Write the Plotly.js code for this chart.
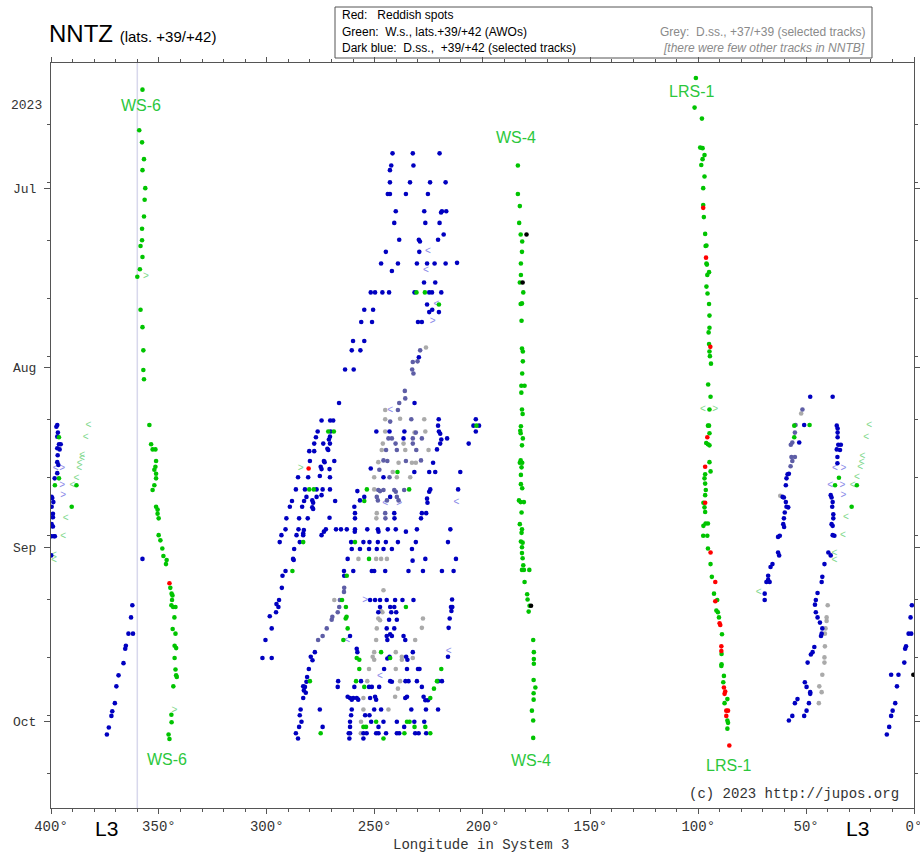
<!DOCTYPE html>
<html>
<head>
<meta charset="utf-8">
<script src="https://cdn.plot.ly/plotly-3.0.1.min.js"></script>
<style>html,body{margin:0;padding:0;background:#fff;}#chart{width:920px;height:854px;}</style>
</head>
<body>
<div id="chart"></div>
<script>
// ---- Data: [longitude System 3 (deg), day of year 2023] ----
const monthTickDays = [182, 213, 244, 274];
const monthTickText = ['Jul', 'Aug', 'Sep', 'Oct'];
const tenDayTicks = [171, 181, 191, 201, 211, 222, 232, 242, 253, 263, 273, 283];
const lonTicks = [400, 350, 300, 250, 200, 150, 100, 50, 0];
const lonTickText = ['400°', '350°', '300°', '250°', '200°', '150°', '100°', '50°', '0°'];

const redSpots = [
 [345.1,250.2],[97.7,185.4],[96.4,194.0],[94.4,209.4],[95.8,225.0],[96.8,230.1],[96.8,236.3],[94.3,244.9],
 [92.1,250.0],[92.1,253.3],[90.1,257.1],[89.8,257.4],[89.3,261.1],[89.3,261.9],[88.1,268.2],[87.5,268.9],
 [87.8,269.3],[87.0,272.2],[86.2,272.2],[87.0,273.1],[85.6,278.2],[280.6,230.4]
];

const blackSpots = [[179.6,190.0],[181.4,198.3],[177.5,254.1],[0.3,266.0]];

const ws6 = [
 [357.6,165.0],[359.1,172.0],[357.8,174.1],[356.9,177.0],[357.6,178.9],[356.3,182.0],[356.6,184.0],[356.9,186.9],
 [357.8,189.0],[357.8,191.0],[358.5,192.0],[357.6,193.9],[358.8,196.0],[360.0,197.3],[358.5,203.0],[357.6,206.0],
 [357.2,210.0],[357.2,213.4],[356.9,215.0],[354.4,222.9],[353.6,226.2],[352.9,227.1],[351.6,227.1],[351.3,229.1],
 [351.6,230.1],[352.1,230.6],[351.3,231.3],[351.3,232.1],[352.1,233.3],[352.9,234.1],[351.3,237.0],[350.6,237.5],
 [350.6,238.2],[350.1,239.0],[350.1,241.9],[349.3,242.8],[348.4,244.2],[347.9,245.5],[346.4,246.2],[346.7,246.9],
 [344.7,251.0],[344.1,252.0],[343.7,252.3],[343.9,253.1],[344.2,254.0],[343.4,254.3],[342.3,254.3],[342.8,256.1],
 [343.6,258.1],[342.3,258.9],[342.7,261.0],[342.0,261.4],[342.7,263.1],[342.3,265.1],[342.0,266.1],[341.7,266.4],
 [343.3,268.0],[344.2,272.9],[344.1,274.2],[345.5,276.3],[345.1,277.1]
];

const ws4 = [
 [183.6,178.1],[183.6,183.0],[182.7,185.1],[183.0,188.0],[182.3,190.0],[181.6,191.2],[181.7,193.0],[182.2,195.0],
 [182.2,197.0],[182.7,198.3],[181.1,200.0],[182.3,202.0],[181.7,201.9],[181.9,204.9],[181.7,209.7],[181.3,210.2],
 [181.3,211.9],[181.6,214.0],[182.0,216.1],[180.5,216.1],[182.0,217.3],[181.7,220.2],[181.4,221.0],[182.2,223.1],
 [182.5,223.9],[182.3,224.3],[181.3,225.2],[181.7,226.4],[182.3,229.0],[181.6,229.4],[182.7,229.4],[181.9,230.2],
 [182.2,231.5],[182.2,233.1],[181.6,233.8],[183.1,235.9],[182.3,236.2],[180.8,236.2],[181.9,238.0],[182.7,240.0],
 [181.7,240.9],[181.9,241.5],[182.2,243.0],[181.4,243.2],[181.7,244.0],[181.7,245.0],[181.4,245.9],[181.1,247.1],
 [181.7,247.9],[180.8,247.9],[178.3,247.9],[180.5,250.0],[179.3,252.1],[179.1,253.0],[178.2,254.1],[178.6,255.1],
 [176.5,260.0],[176.2,262.1],[176.2,263.3],[176.2,264.1],[176.3,266.9],[175.5,268.2],[176.3,269.2],[176.3,270.3],
 [177.1,272.2],[176.5,273.9],[176.5,276.9]
];

const lrs1 = [
 [101.1,163.0],[101.7,168.1],[98.3,170.0],[99.1,175.0],[98.0,175.1],[97.1,176.3],[98.0,177.0],[98.6,178.0],
 [97.1,180.0],[97.7,182.0],[97.7,184.9],[97.4,187.0],[96.8,189.9],[96.6,192.0],[96.2,191.9],[96.2,195.0],
 [96.0,195.2],[95.0,196.5],[95.8,197.0],[96.2,199.0],[95.7,200.2],[95.0,202.0],[94.8,204.0],[94.8,206.1],
 [95.2,206.9],[95.0,208.9],[94.8,210.2],[94.6,211.0],[94.1,212.3],[95.4,215.9],[94.3,218.0],[94.8,220.2],
 [95.5,223.0],[95.0,223.0],[94.8,224.3],[96.3,226.0],[95.5,226.2],[94.8,226.4],[94.8,229.3],[94.3,230.9],
 [96.8,231.4],[97.1,232.1],[96.8,233.0],[96.5,234.1],[96.8,235.0],[97.6,236.3],[97.1,237.1],[96.8,237.9],
 [96.6,239.9],[95.5,239.9],[97.6,240.3],[97.7,242.0],[95.8,242.0],[95.5,244.2],[94.3,246.9],[93.7,249.1],
 [92.7,252.0],[91.2,253.1],[91.6,254.9],[90.9,255.2],[90.4,256.1],[89.0,259.0],[89.2,262.4],[89.2,264.2],
 [89.3,264.5],[88.1,266.2],[88.4,267.3],[86.5,270.2],[87.8,270.9],[86.5,273.9],[86.2,274.3],[86.5,275.3]
];

const otherWhiteSpots = [
 [396.3,225.0],[396.3,232.1],[398.2,233.3],[388.2,233.3],[390.4,237.0],
 [230.6,200.0],[226.7,200.0],[220.2,202.1],[202.8,223.0],[271.5,224.0],[268.9,224.0],[239.4,231.0],[280.3,234.0],
 [278.2,234.0],[253.6,234.0],[234.0,234.0],[254.8,236.0],[283.1,243.1],[259.1,243.1],[252.6,246.0],[288.1,248.1],
 [262.9,248.9],[265.1,253.1],[263.3,254.3],[235.5,254.3],[263.4,256.3],[263.0,256.0],[262.5,258.0],[264.5,260.0],
 [247.0,262.1],[258.3,263.1],[257.1,263.4],[242.8,263.1],[257.1,265.0],[219.1,265.0],[280.0,267.1],[258.6,267.1],
 [221.1,267.1],[254.8,268.1],[222.5,268.4],[224.2,270.0],[249.3,274.1],[235.0,274.1],[233.8,274.1],[255.2,275.0],
 [254.0,275.0],[231.5,275.0],[226.5,275.0],[275.0,276.1],[236.2,276.1],[224.2,276.1],[245.9,277.0],
 [55.5,223.0],[48.4,222.9],[55.5,225.0],[34.8,232.0],[36.6,233.3],[26.5,233.3],[28.9,237.0]
];

const greySpots = [
 [226.2,209.5],[245.1,220.3],[245.1,221.9],[238.2,221.8],[227.0,221.9],[245.1,224.0],[231.5,224.2],[226.5,224.0],
 [246.2,226.1],[236.6,226.1],[246.7,227.2],[235.8,227.2],[225.0,227.2],[248.3,229.3],[238.9,229.4],[232.7,229.4],
 [230.9,229.4],[241.6,231.0],[250.2,231.9],[239.7,231.9],[233.5,231.9],[250.2,234.0],[249.0,238.1],[249.2,239.0],
 [257.5,246.0],[249.3,246.0],[247.0,246.0],[244.3,246.0],[245.9,251.4],[268.7,253.1],[247.1,255.0],[246.4,255.2],
 [248.3,256.3],[247.5,256.6],[227.6,256.3],[249.0,258.0],[228.1,257.9],[249.3,260.0],[231.2,260.0],[250.2,262.1],
 [240.2,262.1],[250.9,262.9],[250.2,263.4],[237.4,262.9],[237.4,263.4],[232.3,263.1],[252.6,265.0],[240.2,265.0],
 [253.4,267.1],[238.2,267.1],[239.2,268.4],[255.2,270.0],[240.5,269.8],[255.2,272.0],[243.6,272.0],[256.3,274.1],
 [256.4,276.1],
 [52.3,220.9],[62.0,235.1],[40.0,254.0],[40.5,256.1],[40.5,256.7],[41.0,258.0],[41.3,258.9],[41.3,261.1],
 [41.5,263.0],[41.5,263.9],[42.5,266.0],[43.9,268.0],[42.8,269.0],[44.1,270.9]
];

const mixedSpots = [
 [228.9,210.0],[232.3,212.0],[230.1,211.9],[232.6,213.3],[232.0,214.0],[236.0,217.0],[235.8,218.3],[238.6,219.1],
 [239.2,220.3],[242.8,222.3],[233.0,221.9],[230.9,224.2],[243.6,225.2],[242.0,225.2],[232.3,225.2],[228.1,225.2],
 [240.3,226.1],[232.3,226.1],[244.7,227.2],[239.7,227.2],[230.7,227.2],[245.9,229.0],[244.1,229.1],[235.5,229.1],
 [228.5,229.0],[247.8,230.6],[243.1,231.9],[248.3,234.1],[247.5,234.3],[245.9,234.1],[240.9,234.1],[240.2,234.4],
 [236.3,234.1],[249.0,235.3],[248.5,235.9],[244.3,235.9],[239.7,235.3],[238.9,235.9],[245.1,238.1],[245.0,239.0],
 [264.1,251.0],[264.2,251.7],[266.1,253.1],[266.4,254.3],[267.1,255.2],[269.6,256.0],[269.9,256.5],[272.2,258.0],
 [274.1,259.3],[276.2,260.0],
 [51.7,220.2],[54.9,222.9],[55.2,224.2],[56.4,225.9],[57.1,226.3],[56.8,228.4],[55.2,228.4],[56.4,229.1],[57.2,230.0]
];

const blueSpots = [
 [397.1,222.9],[397.5,223.2],[396.8,224.2],[397.1,224.9],[396.3,226.2],[395.5,226.2],[397.1,226.9],[396.0,227.1],
 [396.9,228.1],[397.1,229.3],[396.6,229.8],[397.1,231.2],[398.3,232.1],[399.7,235.3],[399.4,235.5],[398.9,236.2],
 [399.7,237.0],[399.1,238.2],[399.1,238.8],[399.7,240.0],[399.1,240.4],[399.7,242.1],[398.6,242.1],[398.2,242.1],
 [399.9,245.4],[357.6,246.0],
 [362.3,254.0],[362.9,256.1],[364.1,258.9],[362.0,258.9],[365.3,261.0],[365.6,261.5],[366.4,264.0],[368.7,266.1],
 [369.7,268.0],[370.4,270.9],[371.6,272.3],[372.0,273.1],[373.2,275.1],[374.1,276.3],
 [241.7,176.0],[232.3,176.0],[219.9,176.0],[242.3,178.1],[232.0,178.1],[242.9,178.9],[242.9,181.0],[233.6,181.0],
 [224.3,181.0],[217.1,181.0],[243.9,183.0],[242.9,183.0],[235.5,183.0],[225.3,183.0],[240.2,186.0],[227.0,186.0],
 [219.2,186.2],[218.8,186.0],[216.8,186.0],[240.9,188.0],[226.5,188.0],[219.9,188.0],[218.0,190.0],[238.6,190.9],
 [229.5,190.9],[229.0,191.2],[220.6,190.9],[244.8,193.0],[229.3,193.0],[247.0,195.0],[239.2,195.0],[230.4,195.0],
 [225.7,195.0],[222.2,195.0],[217.1,195.0],[211.8,194.9],[242.0,196.3],[227.1,198.3],[221.9,198.3],[251.8,200.0],
 [249.8,200.0],[246.4,200.0],[243.3,200.0],[231.5,200.0],[224.7,200.0],[223.4,200.0],[219.1,200.0],[225.7,202.1],
 [223.3,203.0],[224.7,203.4],[220.2,203.4],[254.8,203.0],[250.7,203.0],[256.2,205.1],[251.2,205.1],[229.9,205.1],
 [228.1,205.1],[260.0,208.4],[254.8,208.4],[260.6,210.0],[256.6,210.0],[229.5,211.2],[263.7,213.3],[259.7,213.3],
 [266.5,219.1],[231.5,219.1],
 [274.6,222.1],[270.6,222.1],[269.2,222.1],[220.3,221.9],[203.1,221.9],[204.2,223.0],[201.6,223.0],[220.6,223.0],
 [276.4,224.0],[270.4,224.0],[249.2,224.0],[243.1,224.0],[236.2,224.0],[220.2,224.0],[219.6,224.4],[203.1,224.0],
 [277.2,225.0],[270.7,224.9],[271.2,225.4],[236.6,225.2],[219.1,225.4],[216.4,225.2],[278.0,226.1],[273.8,226.1],
 [270.7,226.1],[219.6,226.1],[206.4,226.1],[280.3,227.4],[278.0,227.4],[271.9,227.0],[271.5,227.2],[221.1,227.1],
 [280.0,229.1],[273.5,229.1],[273.2,229.3],[268.7,229.1],[222.9,229.4],[275.0,230.1],[274.6,230.5],[270.9,230.5],
 [251.8,230.4],[231.6,231.0],[224.7,231.0],[221.9,231.0],[210.3,231.0],[285.5,231.9],[280.8,231.9],[275.4,231.7],
 [270.7,231.9],[245.9,231.9],[286.5,234.0],[282.3,234.0],[276.9,234.0],[274.1,234.0],[270.7,234.0],[258.0,234.3],
 [224.2,234.0],[224.7,234.4],[211.3,234.0],[281.6,235.3],[276.9,235.3],[274.6,235.0],[256.8,235.9],[254.8,235.3],
 [242.8,235.3],[225.7,235.6],[225.5,236.3],[288.3,236.0],[282.7,236.0],[278.9,235.9],[278.5,236.3],[268.3,236.0],
 [289.3,237.0],[283.6,237.0],[278.9,237.1],[278.5,237.4],[259.4,237.0],[259.1,238.1],[240.9,238.1],[228.1,238.1],
 [226.1,238.1],[290.9,239.0],[285.0,239.0],[281.0,239.0],[270.9,238.9],[259.1,239.0],[240.8,239.0],[228.5,239.0],
 [291.3,240.9],[285.3,240.9],[282.8,241.0],[283.1,241.6],[272.6,240.9],[273.5,241.3],[274.6,241.9],[267.9,240.9],
 [265.6,240.9],[262.9,240.9],[259.1,240.9],[259.2,241.3],[253.4,240.9],[248.5,240.9],[248.2,241.3],[243.9,240.9],
 [240.2,240.9],[235.5,241.3],[230.4,240.9],[214.9,240.9],[293.2,241.9],[286.2,241.9],[283.1,241.9],[294.0,243.1],
 [284.7,243.1],[260.9,243.1],[255.2,243.1],[252.4,243.1],[248.5,243.1],[244.8,243.1],[239.2,243.1],[230.9,243.1],
 [216.0,243.1],[287.3,244.3],[260.6,244.3],[256.8,244.3],[252.6,244.3],[249.0,244.3],[245.9,244.3],[242.0,244.3],
 [232.7,244.3],[287.8,246.0],[262.5,246.0],[232.4,246.3],[226.5,246.0],[212.3,246.0],[287.5,246.2],[291.3,248.1],
 [264.2,248.1],[259.9,248.1],[251.3,248.1],[250.2,248.1],[245.1,248.1],[234.3,248.1],[227.6,248.1],[218.8,248.1],
 [213.4,248.1],[292.7,248.9],[264.1,248.9],[293.0,251.0],[294.3,253.1],[295.5,253.8],[294.6,254.3],[252.1,253.1],
 [249.8,253.1],[247.5,253.1],[244.4,253.1],[240.5,253.1],[237.1,253.1],[232.0,253.1],[214.1,253.0],[247.5,254.3],
 [242.8,254.3],[240.9,254.3],[214.6,254.3],[214.0,254.3],[295.7,255.2],[248.3,255.2],[242.3,255.2],[240.0,255.2],
 [214.4,255.0],[298.6,255.9],[243.3,256.5],[239.7,256.5],[215.2,256.3],[297.7,258.0],[244.4,258.0],[240.9,258.0],
 [215.7,257.9],[261.4,259.3],[244.4,259.3],[242.8,259.0],[242.0,259.3],[236.6,259.3],[300.6,260.0],[244.1,260.0],
 [235.8,260.0],[277.7,262.1],[258.3,261.5],[258.0,262.1],[232.3,262.1],[243.1,262.9],[244.1,263.2],[235.4,262.9],
 [234.8,263.4],[216.0,262.9],[302.0,263.1],[297.7,263.1],[279.6,262.9],[278.8,263.5],[280.5,265.0],[245.6,265.0],
 [235.0,265.0],[229.9,265.0],[229.2,265.0],[281.3,266.4],[281.6,267.2],[266.9,267.1],[256.3,267.1],[242.8,267.1],
 [242.0,267.2],[235.7,267.1],[234.3,267.1],[230.4,267.1],[220.6,267.1],[218.8,267.1],[283.1,268.0],[282.3,268.1],
 [282.8,268.7],[267.1,268.1],[259.4,268.1],[252.6,268.1],[251.3,268.1],[247.9,268.1],[228.1,268.1],[281.9,269.1],
 [283.1,270.0],[262.5,269.8],[261.4,270.0],[260.6,270.3],[259.9,270.0],[258.3,270.0],[257.6,270.3],[252.1,270.0],
 [249.8,269.8],[249.3,270.3],[235.8,270.0],[235.0,269.8],[227.3,269.8],[226.5,270.4],[225.3,270.4],[284.3,272.0],
 [275.4,272.0],[260.6,272.0],[250.2,272.0],[247.0,272.0],[233.0,272.0],[226.2,272.0],[220.6,272.0],[284.7,273.0],
 [260.9,273.0],[254.4,273.0],[252.4,273.0],[283.9,274.1],[261.4,274.1],[251.6,274.1],[245.9,274.1],[239.7,274.1],
 [231.6,274.1],[227.0,274.1],[285.0,275.0],[274.1,275.0],[261.4,275.0],[248.2,275.0],[236.3,275.0],[286.5,276.1],
 [262.0,276.1],[261.4,276.1],[255.2,276.1],[253.7,276.1],[249.3,276.1],[248.2,276.1],[244.7,276.1],[239.7,276.1],
 [238.6,276.1],[231.2,276.1],[229.6,276.1],[226.1,276.1],[285.5,277.0],[261.7,277.0],[255.2,277.0],
 [48.1,218.0],[37.7,218.0],[50.9,222.9],[35.8,223.0],[35.4,223.5],[35.4,224.2],[35.4,225.0],[53.2,225.9],
 [35.1,226.3],[33.9,226.3],[35.8,227.1],[34.3,227.2],[35.5,228.4],[35.5,229.5],[58.0,231.3],[58.6,231.4],
 [59.1,232.1],[59.4,233.3],[60.9,235.3],[60.3,235.4],[38.6,235.0],[38.2,235.4],[59.4,236.2],[37.7,236.2],
 [59.1,237.0],[58.3,237.1],[37.9,237.0],[59.9,238.0],[37.4,238.3],[60.3,239.0],[37.4,239.0],[60.6,240.0],
 [60.2,240.5],[38.2,240.0],[37.7,240.3],[62.2,242.0],[63.0,242.2],[37.7,241.9],[36.9,242.0],[63.0,244.9],
 [62.5,245.4],[39.7,244.9],[38.6,245.4],[65.6,246.9],[66.5,247.4],[41.5,246.9],[67.6,248.9],[67.6,249.6],
 [66.9,250.0],[68.4,250.0],[42.5,249.1],[42.8,250.0],[69.2,252.0],[69.2,253.1],[44.7,251.9],[45.5,253.1],
 [45.9,253.9],[45.5,255.2],[44.7,256.1],[43.6,257.0],[42.5,258.0],[42.8,258.9],[43.1,259.3],[46.2,261.2],
 [47.0,262.1],[47.8,262.5],[49.3,263.9],[50.6,267.3],[49.8,268.1],[48.1,269.0],[48.1,269.3],[54.0,270.2],
 [55.2,270.9],[48.7,270.9],[49.8,272.2],[50.9,273.1],[56.4,273.1],[58.0,273.9],
 [1.0,254.0],[1.6,256.1],[2.5,258.9],[1.3,258.9],[3.7,261.1],[4.1,261.5],[4.5,263.9],[10.6,266.0],
 [7.2,266.0],[7.9,268.0],[8.7,270.9],[9.9,272.2],[10.6,273.1],[11.5,275.0],[12.6,276.3]
];

// Open chevron markers (points shifted by wrap-around / uncertain tracks)
const lightGreenLeft = [
 [382.7,222.9],[383.9,225.0],[385.5,228.1],[385.7,228.7],[386.7,229.5],[387.0,230.4],[388.2,232.1],[390.1,233.3],
 [393.2,239.0],[394.4,242.1],[398.6,245.4],[398.6,246.2],[97.8,220.2],[20.8,222.9],[22.2,225.0],[23.9,228.4],
 [24.2,229.3],[25.0,230.2],[26.5,232.0],[28.4,233.3],[31.5,238.9],[33.0,242.0],[36.9,245.1],[36.9,246.2],[72.0,251.8]
];
const lightGreenRight = [[356.0,197.3],[342.8,272.2],[284.3,230.4],[92.1,220.2]];
const lightBlueLeft = [
 [397.8,230.4],[225.3,193.0],[226.2,196.3],[221.4,202.1],[242.8,220.3],[245.1,236.4],[212.1,236.2],
 [262.7,260.0],[215.7,262.0],[247.5,266.3],[36.6,230.4],[38.9,233.3]
];
const lightBlueRight = [
 [394.8,230.4],[394.8,233.3],[394.4,235.0],[223.1,205.1],[238.6,236.4],[254.4,253.1],[32.7,230.4],[33.2,233.3],[32.7,235.0]
];

// ---- Helpers ----
const X = a => a.map(p => p[0]);
const Y = a => a.map(p => p[1]);
function dots(arr, color) {
  return {type: 'scatter', mode: 'markers', x: X(arr), y: Y(arr),
    marker: {size: 4.6, color: color, line: {width: 0}}, hoverinfo: 'skip', showlegend: false};
}
function chev(arr, sym, color) {
  return {type: 'scatter', mode: 'text', x: X(arr), y: Y(arr), text: arr.map(() => sym),
    textposition: 'middle center', textfont: {family: 'Liberation Sans', size: 10, color: color},
    hoverinfo: 'skip', showlegend: false};
}

const GREEN = '#00c400', BLUE = '#0000c0', GREY = '#aaaaaa', MIXED = '#5e5ea6', RED = '#ff0000';
const LABELGREEN = '#2cc73c';

const traces = [
  {type: 'scatter', mode: 'markers', x: [], y: [], xaxis: 'x', yaxis: 'y2', showlegend: false, hoverinfo: 'skip'},
  chev(lightGreenLeft, '<', '#7fd88c'),
  chev(lightGreenRight, '>', '#7fd88c'),
  chev(lightBlueLeft, '<', '#8a8ae8'),
  chev(lightBlueRight, '>', '#8a8ae8'),
  dots(greySpots, GREY),
  dots(mixedSpots, MIXED),
  dots(blueSpots, BLUE),
  dots(ws6, GREEN),
  dots(ws4, GREEN),
  dots(lrs1, GREEN),
  dots(otherWhiteSpots, GREEN),
  dots(redSpots, RED),
  dots(blackSpots, '#000000')
];

const L = 51, R = 914, T = 63, B = 808, W = 920, H = 854;
const px = x => (x - L) / (R - L);          // pixel -> paper x
const py = y => (B - y) / (B - T);          // pixel -> paper y
const monoFont = {family: 'Liberation Mono, Courier New, monospace', size: 13, color: '#333'};
const monoFont14 = {family: 'Liberation Mono, Courier New, monospace', size: 14, color: '#333'};
const sansFont = (s, c) => ({family: 'Liberation Sans, Arial, sans-serif', size: s, color: c || '#000'});
const NB = '\u00a0';

const annotations = [
  {xref: 'paper', yref: 'paper', x: px(47), y: py(33), xanchor: 'left', yanchor: 'middle', showarrow: false,
   text: 'NNTZ <span style="font-size:15px">(lats. +39/+42)</span>', font: sansFont(24)},
  {xref: 'paper', yref: 'paper', x: px(340), y: py(15), xanchor: 'left', yanchor: 'middle', showarrow: false,
   text: 'Red:' + NB + NB + NB + 'Reddish spots', font: sansFont(12)},
  {xref: 'paper', yref: 'paper', x: px(340), y: py(32), xanchor: 'left', yanchor: 'middle', showarrow: false,
   text: 'Green:' + NB + NB + 'W.s., lats.+39/+42 (AWOs)', font: sansFont(12)},
  {xref: 'paper', yref: 'paper', x: px(340), y: py(48), xanchor: 'left', yanchor: 'middle', showarrow: false,
   text: 'Dark blue:' + NB + NB + 'D.ss.,' + NB + NB + '+39/+42 (selected tracks)', font: sansFont(12)},
  {xref: 'paper', yref: 'paper', x: px(867), y: py(32), xanchor: 'right', yanchor: 'middle', showarrow: false,
   text: 'Grey:' + NB + NB + 'D.ss., +37/+39 (selected tracks)', font: sansFont(12, '#8a8a8a')},
  {xref: 'paper', yref: 'paper', x: px(867), y: py(48), xanchor: 'right', yanchor: 'middle', showarrow: false,
   text: '<i>[there were few other tracks in NNTB]</i>', font: sansFont(12, '#8a8a8a')},
  {xref: 'paper', yref: 'paper', x: px(901), y: py(794), xanchor: 'right', yanchor: 'middle', showarrow: false,
   text: '(c) 2023 http://jupos.org', font: monoFont14},
  {xref: 'paper', yref: 'paper', x: px(481), y: py(845), xanchor: 'center', yanchor: 'middle', showarrow: false,
   text: 'Longitude in System 3', font: monoFont14},
  {xref: 'paper', yref: 'paper', x: px(106), y: py(828), xanchor: 'center', yanchor: 'middle', showarrow: false,
   text: 'L3', font: sansFont(21)},
  {xref: 'paper', yref: 'paper', x: px(857), y: py(828), xanchor: 'center', yanchor: 'middle', showarrow: false,
   text: 'L3', font: sansFont(21)},
  {xref: 'paper', yref: 'y', x: px(44), y: 167.8, xanchor: 'right', yanchor: 'middle', showarrow: false,
   text: '2023', font: monoFont},
  // feature labels
  {x: 358.1, y: 167.8, text: 'WS-6', showarrow: false, font: sansFont(16, LABELGREEN)},
  {x: 346.1, y: 280.6, text: 'WS-6', showarrow: false, font: sansFont(16, LABELGREEN)},
  {x: 184.7, y: 173.2, text: 'WS-4', showarrow: false, font: sansFont(16, LABELGREEN)},
  {x: 177.7, y: 280.8, text: 'WS-4', showarrow: false, font: sansFont(16, LABELGREEN)},
  {x: 103.3, y: 165.4, text: 'LRS-1', showarrow: false, font: sansFont(16, LABELGREEN)},
  {x: 86.1, y: 281.6, text: 'LRS-1', showarrow: false, font: sansFont(16, LABELGREEN)}
];

const shapes = [
  {type: 'line', xref: 'x', yref: 'paper', x0: 360, x1: 360, y0: 0, y1: 1,
   line: {color: 'rgb(216,216,236)', width: 1.5}, layer: 'below'},
  {type: 'rect', xref: 'paper', yref: 'paper', x0: px(335), x1: px(872), y0: py(58), y1: py(7),
   line: {color: '#555', width: 1}, fillcolor: 'rgba(255,255,255,0)', layer: 'above'}
];

const yRange = [289.0, 160.4];
const layout = {
  width: W, height: H,
  margin: {l: L, r: W - R, t: T, b: H - B, pad: 0},
  paper_bgcolor: '#ffffff', plot_bgcolor: '#ffffff',
  showlegend: false,
  xaxis: {range: [400, 0], tickvals: lonTicks, ticktext: lonTickText, ticks: 'outside', ticklen: 5,
    tickcolor: '#555', showline: true, linecolor: '#555', linewidth: 1, mirror: 'ticks', showgrid: false,
    zeroline: false, tickfont: monoFont14, fixedrange: true, ticklabeloverflow: 'allow',
    minor: {dtick: 10, tick0: 0, ticks: 'outside', ticklen: 3, tickcolor: '#555', showgrid: false}},
  yaxis: {range: yRange, tickvals: monthTickDays, ticktext: monthTickText, ticks: 'outside', ticklen: 6,
    tickcolor: '#555', showline: true, linecolor: '#555', linewidth: 1, mirror: 'ticks', showgrid: false,
    zeroline: false, tickfont: monoFont, ticklabelstandoff: 5, fixedrange: true},
  yaxis2: {range: yRange, overlaying: 'y', side: 'left', tickvals: tenDayTicks, ticks: 'outside', ticklen: 3,
    tickcolor: '#555', showticklabels: false, showgrid: false, zeroline: false, showline: false, mirror: 'ticks',
    fixedrange: true},
  annotations: annotations,
  shapes: shapes
};

Plotly.newPlot('chart', traces, layout, {displayModeBar: false, staticPlot: true});
</script>
</body>
</html>
